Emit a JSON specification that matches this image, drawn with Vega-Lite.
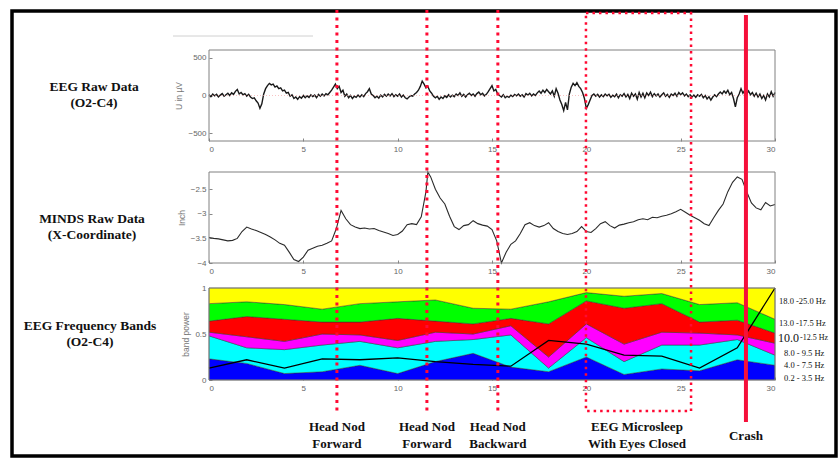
{
  "$schema": "https://vega.github.io/schema/vega-lite/v6.json",
  "width": 838,
  "height": 460,
  "autosize": {"type": "none"},
  "padding": 0,
  "background": "white",
  "config": {
    "view": {"stroke": null},
    "axis": {"labelFont": "Liberation Sans", "labelFontSize": 8, "labelColor": "#666", "tickColor": "#888", "tickSize": -3, "labelPadding": 7, "domain": false, "grid": false, "titleFont": "Liberation Sans", "titleFontSize": 8.5, "titleColor": "#777", "titleFontWeight": "normal", "titlePadding": 4}
  },
  "datasets": {
    "eeg": [
      {"t":0.0,"v":10},{"t":0.1,"v":-15},{"t":0.2,"v":20},{"t":0.3,"v":-5},{"t":0.4,"v":15},{"t":0.5,"v":-20},{"t":0.6,"v":5},{"t":0.7,"v":25},{"t":0.8,"v":-10},{"t":0.9,"v":10},
      {"t":1.0,"v":30},{"t":1.1,"v":0},{"t":1.2,"v":35},{"t":1.3,"v":15},{"t":1.4,"v":55},{"t":1.5,"v":80},{"t":1.6,"v":20},{"t":1.7,"v":40},{"t":1.8,"v":10},{"t":1.9,"v":25},
      {"t":2.0,"v":-10},{"t":2.1,"v":15},{"t":2.2,"v":-20},{"t":2.3,"v":-40},{"t":2.4,"v":-30},{"t":2.5,"v":-70},{"t":2.6,"v":-100},{"t":2.7,"v":-170},{"t":2.8,"v":-110},{"t":2.9,"v":20},
      {"t":3.0,"v":90},{"t":3.1,"v":130},{"t":3.2,"v":160},{"t":3.3,"v":140},{"t":3.4,"v":150},{"t":3.5,"v":110},{"t":3.6,"v":125},{"t":3.7,"v":90},{"t":3.8,"v":100},{"t":3.9,"v":60},
      {"t":4.0,"v":70},{"t":4.1,"v":30},{"t":4.2,"v":40},{"t":4.3,"v":-10},{"t":4.4,"v":10},{"t":4.5,"v":-40},{"t":4.6,"v":-20},{"t":4.7,"v":-50},{"t":4.8,"v":-15},{"t":4.9,"v":-35},
      {"t":5.0,"v":0},{"t":5.1,"v":-30},{"t":5.2,"v":-5},{"t":5.3,"v":-25},{"t":5.4,"v":10},{"t":5.5,"v":-15},{"t":5.6,"v":5},{"t":5.7,"v":-30},{"t":5.8,"v":15},{"t":5.9,"v":-10},
      {"t":6.0,"v":20},{"t":6.1,"v":-5},{"t":6.2,"v":25},{"t":6.3,"v":10},{"t":6.4,"v":40},{"t":6.5,"v":70},{"t":6.6,"v":110},{"t":6.7,"v":150},{"t":6.8,"v":90},{"t":6.9,"v":120},
      {"t":7.0,"v":40},{"t":7.1,"v":70},{"t":7.2,"v":-10},{"t":7.3,"v":20},{"t":7.4,"v":-30},{"t":7.5,"v":0},{"t":7.6,"v":-40},{"t":7.7,"v":-10},{"t":7.8,"v":-25},{"t":7.9,"v":5},
      {"t":8.0,"v":-20},{"t":8.1,"v":10},{"t":8.2,"v":-15},{"t":8.3,"v":25},{"t":8.4,"v":50},{"t":8.5,"v":90},{"t":8.6,"v":20},{"t":8.7,"v":0},{"t":8.8,"v":-30},{"t":8.9,"v":-10},
      {"t":9.0,"v":-35},{"t":9.1,"v":5},{"t":9.2,"v":-20},{"t":9.3,"v":15},{"t":9.4,"v":-10},{"t":9.5,"v":20},{"t":9.6,"v":-5},{"t":9.7,"v":25},{"t":9.8,"v":-15},{"t":9.9,"v":10},
      {"t":10.0,"v":-10},{"t":10.1,"v":20},{"t":10.2,"v":-20},{"t":10.3,"v":5},{"t":10.4,"v":-30},{"t":10.5,"v":-45},{"t":10.6,"v":-20},{"t":10.7,"v":0},{"t":10.8,"v":-10},{"t":10.9,"v":20},
      {"t":11.0,"v":40},{"t":11.1,"v":70},{"t":11.2,"v":120},{"t":11.3,"v":190},{"t":11.4,"v":150},{"t":11.5,"v":100},{"t":11.6,"v":120},{"t":11.7,"v":60},{"t":11.8,"v":30},{"t":11.9,"v":-10},
      {"t":12.0,"v":-30},{"t":12.1,"v":-10},{"t":12.2,"v":-50},{"t":12.3,"v":-20},{"t":12.4,"v":-40},{"t":12.5,"v":-5},{"t":12.6,"v":-25},{"t":12.7,"v":10},{"t":12.8,"v":-20},{"t":12.9,"v":5},
      {"t":13.0,"v":-15},{"t":13.1,"v":20},{"t":13.2,"v":0},{"t":13.3,"v":35},{"t":13.4,"v":-10},{"t":13.5,"v":15},{"t":13.6,"v":-20},{"t":13.7,"v":10},{"t":13.8,"v":30},{"t":13.9,"v":0},
      {"t":14.0,"v":20},{"t":14.1,"v":-10},{"t":14.2,"v":25},{"t":14.3,"v":45},{"t":14.4,"v":10},{"t":14.5,"v":30},{"t":14.6,"v":-5},{"t":14.7,"v":15},{"t":14.8,"v":50},{"t":14.9,"v":90},
      {"t":15.0,"v":130},{"t":15.1,"v":60},{"t":15.2,"v":80},{"t":15.3,"v":20},{"t":15.4,"v":0},{"t":15.5,"v":-20},{"t":15.6,"v":10},{"t":15.7,"v":-30},{"t":15.8,"v":-10},{"t":15.9,"v":-25},
      {"t":16.0,"v":5},{"t":16.1,"v":-15},{"t":16.2,"v":15},{"t":16.3,"v":-5},{"t":16.4,"v":20},{"t":16.5,"v":-10},{"t":16.6,"v":10},{"t":16.7,"v":-20},{"t":16.8,"v":25},{"t":16.9,"v":5},
      {"t":17.0,"v":30},{"t":17.1,"v":-5},{"t":17.2,"v":20},{"t":17.3,"v":0},{"t":17.4,"v":35},{"t":17.5,"v":60},{"t":17.6,"v":30},{"t":17.7,"v":70},{"t":17.8,"v":40},{"t":17.9,"v":80},
      {"t":18.0,"v":50},{"t":18.1,"v":20},{"t":18.2,"v":60},{"t":18.3,"v":-10},{"t":18.4,"v":90},{"t":18.5,"v":30},{"t":18.6,"v":-60},{"t":18.7,"v":-120},{"t":18.8,"v":-200},{"t":18.9,"v":-90},
      {"t":19.0,"v":-190},{"t":19.1,"v":20},{"t":19.2,"v":110},{"t":19.3,"v":160},{"t":19.4,"v":130},{"t":19.5,"v":170},{"t":19.6,"v":120},{"t":19.7,"v":90},{"t":19.8,"v":40},{"t":19.9,"v":-40},
      {"t":20.0,"v":-170},{"t":20.1,"v":-120},{"t":20.2,"v":-60},{"t":20.3,"v":0},{"t":20.4,"v":20},{"t":20.5,"v":-10},{"t":20.6,"v":15},{"t":20.7,"v":-20},{"t":20.8,"v":10},{"t":20.9,"v":-15},
      {"t":21.0,"v":20},{"t":21.1,"v":-5},{"t":21.2,"v":15},{"t":21.3,"v":-25},{"t":21.4,"v":5},{"t":21.5,"v":-15},{"t":21.6,"v":20},{"t":21.7,"v":-30},{"t":21.8,"v":10},{"t":21.9,"v":-10},
      {"t":22.0,"v":25},{"t":22.1,"v":-20},{"t":22.2,"v":15},{"t":22.3,"v":-40},{"t":22.4,"v":30},{"t":22.5,"v":-10},{"t":22.6,"v":20},{"t":22.7,"v":-50},{"t":22.8,"v":40},{"t":22.9,"v":-20},
      {"t":23.0,"v":30},{"t":23.1,"v":-30},{"t":23.2,"v":35},{"t":23.3,"v":0},{"t":23.4,"v":45},{"t":23.5,"v":-15},{"t":23.6,"v":25},{"t":23.7,"v":-5},{"t":23.8,"v":20},{"t":23.9,"v":-20},
      {"t":24.0,"v":10},{"t":24.1,"v":35},{"t":24.2,"v":-10},{"t":24.3,"v":15},{"t":24.4,"v":-25},{"t":24.5,"v":20},{"t":24.6,"v":0},{"t":24.7,"v":30},{"t":24.8,"v":-10},{"t":24.9,"v":40},
      {"t":25.0,"v":10},{"t":25.1,"v":35},{"t":25.2,"v":-5},{"t":25.3,"v":20},{"t":25.4,"v":-15},{"t":25.5,"v":10},{"t":25.6,"v":-20},{"t":25.7,"v":5},{"t":25.8,"v":-25},{"t":25.9,"v":10},
      {"t":26.0,"v":-10},{"t":26.1,"v":15},{"t":26.2,"v":-30},{"t":26.3,"v":0},{"t":26.4,"v":-45},{"t":26.5,"v":-15},{"t":26.6,"v":-60},{"t":26.7,"v":-20},{"t":26.8,"v":10},{"t":26.9,"v":-15},
      {"t":27.0,"v":20},{"t":27.1,"v":45},{"t":27.2,"v":20},{"t":27.3,"v":60},{"t":27.4,"v":30},{"t":27.5,"v":70},{"t":27.6,"v":10},{"t":27.7,"v":40},{"t":27.8,"v":-40},{"t":27.9,"v":-150},
      {"t":28.0,"v":-30},{"t":28.1,"v":20},{"t":28.2,"v":90},{"t":28.3,"v":30},{"t":28.4,"v":70},{"t":28.5,"v":20},{"t":28.6,"v":60},{"t":28.7,"v":10},{"t":28.8,"v":40},{"t":28.9,"v":-10},
      {"t":29.0,"v":30},{"t":29.1,"v":-20},{"t":29.2,"v":20},{"t":29.3,"v":-40},{"t":29.4,"v":0},{"t":29.5,"v":-60},{"t":29.6,"v":20},{"t":29.7,"v":-20},{"t":29.8,"v":50},{"t":29.9,"v":-10},
      {"t":30.0,"v":40}
    ],
    "minds": [
      {"t":0,"v":-3.48},{"t":0.25,"v":-3.5},{"t":0.5,"v":-3.51},{"t":0.75,"v":-3.53},{"t":1,"v":-3.55},{"t":1.25,"v":-3.54},{"t":1.5,"v":-3.5},{"t":1.75,"v":-3.36},
      {"t":2,"v":-3.27},{"t":2.25,"v":-3.31},{"t":2.5,"v":-3.34},{"t":2.75,"v":-3.38},{"t":3,"v":-3.42},{"t":3.25,"v":-3.47},{"t":3.5,"v":-3.53},{"t":3.75,"v":-3.6},
      {"t":4,"v":-3.64},{"t":4.25,"v":-3.78},{"t":4.5,"v":-3.93},{"t":4.75,"v":-3.97},{"t":5,"v":-3.88},{"t":5.25,"v":-3.74},{"t":5.5,"v":-3.7},{"t":5.75,"v":-3.66},
      {"t":6,"v":-3.64},{"t":6.25,"v":-3.6},{"t":6.5,"v":-3.55},{"t":6.75,"v":-3.3},{"t":7,"v":-2.93},{"t":7.25,"v":-3.1},{"t":7.5,"v":-3.22},{"t":7.75,"v":-3.27},
      {"t":8,"v":-3.3},{"t":8.25,"v":-3.29},{"t":8.5,"v":-3.31},{"t":8.75,"v":-3.3},{"t":9,"v":-3.34},{"t":9.25,"v":-3.37},{"t":9.5,"v":-3.4},{"t":9.75,"v":-3.44},
      {"t":10,"v":-3.42},{"t":10.25,"v":-3.35},{"t":10.5,"v":-3.22},{"t":10.75,"v":-3.2},{"t":11,"v":-3.22},{"t":11.25,"v":-3.06},{"t":11.5,"v":-2.55},{"t":11.6,"v":-2.15},
      {"t":11.75,"v":-2.25},{"t":12,"v":-2.5},{"t":12.25,"v":-2.68},{"t":12.5,"v":-2.8},{"t":12.75,"v":-3.05},{"t":13,"v":-3.26},{"t":13.25,"v":-3.32},{"t":13.5,"v":-3.24},
      {"t":13.75,"v":-3.22},{"t":14,"v":-3.14},{"t":14.25,"v":-3.2},{"t":14.5,"v":-3.23},{"t":14.75,"v":-3.25},{"t":15,"v":-3.32},{"t":15.25,"v":-3.55},{"t":15.5,"v":-4.0},
      {"t":15.75,"v":-3.78},{"t":16,"v":-3.62},{"t":16.25,"v":-3.55},{"t":16.5,"v":-3.4},{"t":16.75,"v":-3.22},{"t":17,"v":-3.18},{"t":17.25,"v":-3.24},{"t":17.5,"v":-3.27},
      {"t":17.75,"v":-3.24},{"t":18,"v":-3.18},{"t":18.25,"v":-3.3},{"t":18.5,"v":-3.36},{"t":18.75,"v":-3.4},{"t":19,"v":-3.42},{"t":19.25,"v":-3.4},{"t":19.5,"v":-3.36},
      {"t":19.75,"v":-3.26},{"t":20,"v":-3.36},{"t":20.25,"v":-3.38},{"t":20.5,"v":-3.3},{"t":20.75,"v":-3.2},{"t":21,"v":-3.16},{"t":21.25,"v":-3.24},{"t":21.5,"v":-3.29},
      {"t":21.75,"v":-3.23},{"t":22,"v":-3.21},{"t":22.25,"v":-3.18},{"t":22.5,"v":-3.16},{"t":22.75,"v":-3.12},{"t":23,"v":-3.1},{"t":23.25,"v":-3.12},{"t":23.5,"v":-3.07},
      {"t":23.75,"v":-3.08},{"t":24,"v":-3.05},{"t":24.25,"v":-3.03},{"t":24.5,"v":-3.0},{"t":24.75,"v":-2.96},{"t":25,"v":-2.91},{"t":25.25,"v":-2.97},{"t":25.5,"v":-3.03},
      {"t":25.75,"v":-3.08},{"t":26,"v":-3.13},{"t":26.25,"v":-3.2},{"t":26.5,"v":-3.24},{"t":26.75,"v":-3.08},{"t":27,"v":-2.93},{"t":27.25,"v":-2.8},{"t":27.5,"v":-2.55},
      {"t":27.75,"v":-2.36},{"t":28,"v":-2.25},{"t":28.25,"v":-2.3},{"t":28.5,"v":-2.55},{"t":28.75,"v":-2.78},{"t":29,"v":-2.88},{"t":29.25,"v":-2.92},{"t":29.5,"v":-2.77},
      {"t":29.75,"v":-2.84},{"t":30,"v":-2.81}
    ],
    "bands": [
      {"t":0,"b":"0.2 - 3.5 Hz","lo":0.2,"p":0.23},{"t":0,"b":"4.0 - 7.5 Hz","lo":4,"p":0.25},{"t":0,"b":"8.0 - 9.5 Hz","lo":8,"p":0.04},{"t":0,"b":"10.0 - 12.5 Hz","lo":10,"p":0.12},{"t":0,"b":"13.0 - 17.5 Hz","lo":13,"p":0.19},{"t":0,"b":"18.0 - 25.0 Hz","lo":18,"p":0.17},
      {"t":2,"b":"0.2 - 3.5 Hz","lo":0.2,"p":0.18},{"t":2,"b":"4.0 - 7.5 Hz","lo":4,"p":0.17},{"t":2,"b":"8.0 - 9.5 Hz","lo":8,"p":0.12},{"t":2,"b":"10.0 - 12.5 Hz","lo":10,"p":0.22},{"t":2,"b":"13.0 - 17.5 Hz","lo":13,"p":0.16},{"t":2,"b":"18.0 - 25.0 Hz","lo":18,"p":0.15},
      {"t":4,"b":"0.2 - 3.5 Hz","lo":0.2,"p":0.07},{"t":4,"b":"4.0 - 7.5 Hz","lo":4,"p":0.26},{"t":4,"b":"8.0 - 9.5 Hz","lo":8,"p":0.09},{"t":4,"b":"10.0 - 12.5 Hz","lo":10,"p":0.24},{"t":4,"b":"13.0 - 17.5 Hz","lo":13,"p":0.16},{"t":4,"b":"18.0 - 25.0 Hz","lo":18,"p":0.18},
      {"t":6,"b":"0.2 - 3.5 Hz","lo":0.2,"p":0.09},{"t":6,"b":"4.0 - 7.5 Hz","lo":4,"p":0.29},{"t":6,"b":"8.0 - 9.5 Hz","lo":8,"p":0.12},{"t":6,"b":"10.0 - 12.5 Hz","lo":10,"p":0.13},{"t":6,"b":"13.0 - 17.5 Hz","lo":13,"p":0.14},{"t":6,"b":"18.0 - 25.0 Hz","lo":18,"p":0.23},
      {"t":8,"b":"0.2 - 3.5 Hz","lo":0.2,"p":0.16},{"t":8,"b":"4.0 - 7.5 Hz","lo":4,"p":0.26},{"t":8,"b":"8.0 - 9.5 Hz","lo":8,"p":0.07},{"t":8,"b":"10.0 - 12.5 Hz","lo":10,"p":0.14},{"t":8,"b":"13.0 - 17.5 Hz","lo":13,"p":0.2},{"t":8,"b":"18.0 - 25.0 Hz","lo":18,"p":0.17},
      {"t":10,"b":"0.2 - 3.5 Hz","lo":0.2,"p":0.07},{"t":10,"b":"4.0 - 7.5 Hz","lo":4,"p":0.28},{"t":10,"b":"8.0 - 9.5 Hz","lo":8,"p":0.08},{"t":10,"b":"10.0 - 12.5 Hz","lo":10,"p":0.24},{"t":10,"b":"13.0 - 17.5 Hz","lo":13,"p":0.18},{"t":10,"b":"18.0 - 25.0 Hz","lo":18,"p":0.15},
      {"t":12,"b":"0.2 - 3.5 Hz","lo":0.2,"p":0.2},{"t":12,"b":"4.0 - 7.5 Hz","lo":4,"p":0.22},{"t":12,"b":"8.0 - 9.5 Hz","lo":8,"p":0.1},{"t":12,"b":"10.0 - 12.5 Hz","lo":10,"p":0.12},{"t":12,"b":"13.0 - 17.5 Hz","lo":13,"p":0.23},{"t":12,"b":"18.0 - 25.0 Hz","lo":18,"p":0.13},
      {"t":14,"b":"0.2 - 3.5 Hz","lo":0.2,"p":0.29},{"t":14,"b":"4.0 - 7.5 Hz","lo":4,"p":0.15},{"t":14,"b":"8.0 - 9.5 Hz","lo":8,"p":0.06},{"t":14,"b":"10.0 - 12.5 Hz","lo":10,"p":0.11},{"t":14,"b":"13.0 - 17.5 Hz","lo":13,"p":0.17},{"t":14,"b":"18.0 - 25.0 Hz","lo":18,"p":0.22},
      {"t":16,"b":"0.2 - 3.5 Hz","lo":0.2,"p":0.14},{"t":16,"b":"4.0 - 7.5 Hz","lo":4,"p":0.35},{"t":16,"b":"8.0 - 9.5 Hz","lo":8,"p":0.1},{"t":16,"b":"10.0 - 12.5 Hz","lo":10,"p":0.08},{"t":16,"b":"13.0 - 17.5 Hz","lo":13,"p":0.1},{"t":16,"b":"18.0 - 25.0 Hz","lo":18,"p":0.23},
      {"t":18,"b":"0.2 - 3.5 Hz","lo":0.2,"p":0.09},{"t":18,"b":"4.0 - 7.5 Hz","lo":4,"p":0.04},{"t":18,"b":"8.0 - 9.5 Hz","lo":8,"p":0.12},{"t":18,"b":"10.0 - 12.5 Hz","lo":10,"p":0.36},{"t":18,"b":"13.0 - 17.5 Hz","lo":13,"p":0.24},{"t":18,"b":"18.0 - 25.0 Hz","lo":18,"p":0.15},
      {"t":20,"b":"0.2 - 3.5 Hz","lo":0.2,"p":0.25},{"t":20,"b":"4.0 - 7.5 Hz","lo":4,"p":0.21},{"t":20,"b":"8.0 - 9.5 Hz","lo":8,"p":0.15},{"t":20,"b":"10.0 - 12.5 Hz","lo":10,"p":0.25},{"t":20,"b":"13.0 - 17.5 Hz","lo":13,"p":0.09},{"t":20,"b":"18.0 - 25.0 Hz","lo":18,"p":0.05},
      {"t":22,"b":"0.2 - 3.5 Hz","lo":0.2,"p":0.06},{"t":22,"b":"4.0 - 7.5 Hz","lo":4,"p":0.14},{"t":22,"b":"8.0 - 9.5 Hz","lo":8,"p":0.19},{"t":22,"b":"10.0 - 12.5 Hz","lo":10,"p":0.39},{"t":22,"b":"13.0 - 17.5 Hz","lo":13,"p":0.13},{"t":22,"b":"18.0 - 25.0 Hz","lo":18,"p":0.09},
      {"t":24,"b":"0.2 - 3.5 Hz","lo":0.2,"p":0.12},{"t":24,"b":"4.0 - 7.5 Hz","lo":4,"p":0.26},{"t":24,"b":"8.0 - 9.5 Hz","lo":8,"p":0.14},{"t":24,"b":"10.0 - 12.5 Hz","lo":10,"p":0.31},{"t":24,"b":"13.0 - 17.5 Hz","lo":13,"p":0.11},{"t":24,"b":"18.0 - 25.0 Hz","lo":18,"p":0.06},
      {"t":26,"b":"0.2 - 3.5 Hz","lo":0.2,"p":0.1},{"t":26,"b":"4.0 - 7.5 Hz","lo":4,"p":0.28},{"t":26,"b":"8.0 - 9.5 Hz","lo":8,"p":0.13},{"t":26,"b":"10.0 - 12.5 Hz","lo":10,"p":0.12},{"t":26,"b":"13.0 - 17.5 Hz","lo":13,"p":0.19},{"t":26,"b":"18.0 - 25.0 Hz","lo":18,"p":0.18},
      {"t":28,"b":"0.2 - 3.5 Hz","lo":0.2,"p":0.22},{"t":28,"b":"4.0 - 7.5 Hz","lo":4,"p":0.22},{"t":28,"b":"8.0 - 9.5 Hz","lo":8,"p":0.05},{"t":28,"b":"10.0 - 12.5 Hz","lo":10,"p":0.16},{"t":28,"b":"13.0 - 17.5 Hz","lo":13,"p":0.19},{"t":28,"b":"18.0 - 25.0 Hz","lo":18,"p":0.16},
      {"t":30,"b":"0.2 - 3.5 Hz","lo":0.2,"p":0.16},{"t":30,"b":"4.0 - 7.5 Hz","lo":4,"p":0.11},{"t":30,"b":"8.0 - 9.5 Hz","lo":8,"p":0.13},{"t":30,"b":"10.0 - 12.5 Hz","lo":10,"p":0.11},{"t":30,"b":"13.0 - 17.5 Hz","lo":13,"p":0.15},{"t":30,"b":"18.0 - 25.0 Hz","lo":18,"p":0.34}
    ],
    "index": [
      {"t":0,"v":0.13},{"t":2,"v":0.22},{"t":4,"v":0.13},{"t":6,"v":0.23},{"t":8,"v":0.22},{"t":10,"v":0.24},{"t":12,"v":0.2},{"t":14,"v":0.17},
      {"t":16,"v":0.15},{"t":18,"v":0.43},{"t":20,"v":0.39},{"t":22,"v":0.27},{"t":24,"v":0.26},{"t":26,"v":0.13},{"t":28,"v":0.35},{"t":30,"v":1.0}
    ],
    "nods": [
      {"event":"Head Nod Forward","label":"Head Nod\nForward","t":6.78},
      {"event":"Head Nod Forward","label":"Head Nod\nForward","t":11.55},
      {"event":"Head Nod Backward","label":"Head Nod\nBackward","t":15.31}
    ],
    "microsleep": [{"event":"EEG Microsleep With Eyes Closed","label":"EEG Microsleep\nWith Eyes Closed","start":19.98,"end":25.55}],
    "crash": [{"event":"Crash","label":"Crash","t":28.46}]
  },
  "resolve": {"scale": {"x": "independent", "y": "independent"}, "axis": {"x": "independent", "y": "independent"}},
  "layer": [
    {
      "data": {"values": [{}]},
      "mark": {"type": "rect", "fillOpacity": 0, "stroke": "#000", "strokeWidth": 3.5},
      "encoding": {"x": {"value": 12}, "x2": {"value": 836}, "y": {"value": 11}, "y2": {"value": 456}}
    },
    {
      "data": {"values": [{}]},
      "mark": {"type": "rule", "color": "#d0d0d0", "strokeWidth": 1},
      "encoding": {"x": {"value": 173}, "x2": {"value": 313}, "y": {"value": 36}}
    },
    {
      "layer": [
        {
          "data": {"name": "eeg"},
          "mark": {"type": "line", "color": "#1a1a1a", "strokeWidth": 1.4},
          "encoding": {
            "x": {"field": "t", "type": "quantitative", "scale": {"domain": [0, 30], "range": [209, 775], "nice": false, "zero": false},
                  "axis": {"orient": "bottom", "offset": -319, "values": [0, 5, 10, 15, 20, 25, 30], "title": null}},
            "y": {"field": "v", "type": "quantitative", "scale": {"domain": [-600, 600], "range": [141, 50], "nice": false, "zero": false},
                  "axis": {"orient": "left", "offset": -209, "values": [-500, 0, 500], "format": "d", "title": "U in µV", "labelPadding": 6}}
          }
        },
        {
          "data": {"values": [{}]},
          "mark": {"type": "rule", "color": "#f4a0a0", "strokeDash": [1, 2], "strokeWidth": 0.8, "opacity": 0.8},
          "encoding": {
            "x": {"datum": 0, "type": "quantitative"},
            "x2": {"datum": 30},
            "y": {"datum": 0, "type": "quantitative"}
          }
        },
        {
          "data": {"values": [{}]},
          "mark": {"type": "rect", "fillOpacity": 0, "stroke": "#808080", "strokeWidth": 1},
          "encoding": {
            "x": {"datum": 0, "type": "quantitative"},
            "x2": {"datum": 30},
            "y": {"datum": -600, "type": "quantitative"},
            "y2": {"datum": 600}
          }
        },
        {
          "data": {"values": [{}]},
          "mark": {"type": "text", "font": "Liberation Serif", "fontWeight": "bold", "fontSize": 13.5, "color": "#111", "align": "center", "baseline": "middle", "lineBreak": "\n", "lineHeight": 16},
          "encoding": {
            "x": {"value": 94},
            "y": {"datum": 112, "type": "quantitative"},
            "text": {"value": "EEG Raw Data\n(O2-C4)"}
          }
        }
      ]
    },
    {
      "layer": [
        {
          "data": {"name": "minds"},
          "mark": {"type": "line", "color": "#2a2a2a", "strokeWidth": 1.1},
          "encoding": {
            "x": {"field": "t", "type": "quantitative", "scale": {"domain": [0, 30], "range": [209, 775], "nice": false, "zero": false},
                  "axis": {"orient": "bottom", "offset": -197, "values": [0, 5, 10, 15, 20, 25, 30], "title": null}},
            "y": {"field": "v", "type": "quantitative", "scale": {"domain": [-4, -2.15], "range": [263, 172], "nice": false, "zero": false},
                  "axis": {"orient": "left", "offset": -209, "values": [-4, -3.5, -3, -2.5], "format": "~g", "title": "Inch", "labelPadding": 6}}
          }
        },
        {
          "data": {"values": [{}]},
          "mark": {"type": "rect", "fillOpacity": 0, "stroke": "#808080", "strokeWidth": 1},
          "encoding": {
            "x": {"datum": 0, "type": "quantitative"},
            "x2": {"datum": 30},
            "y": {"datum": -4, "type": "quantitative"},
            "y2": {"datum": -2.15}
          }
        },
        {
          "data": {"values": [{}]},
          "mark": {"type": "text", "font": "Liberation Serif", "fontWeight": "bold", "fontSize": 13.5, "color": "#111", "align": "center", "baseline": "middle", "lineBreak": "\n", "lineHeight": 16},
          "encoding": {
            "x": {"value": 92},
            "y": {"datum": -3.105, "type": "quantitative"},
            "text": {"value": "MINDS Raw Data\n(X-Coordinate)"}
          }
        }
      ]
    },
    {
      "layer": [
        {
          "data": {"name": "bands"},
          "mark": {"type": "area", "stroke": "#333", "strokeWidth": 0.6, "strokeOpacity": 0.8},
          "encoding": {
            "x": {"field": "t", "type": "quantitative", "scale": {"domain": [0, 30], "range": [209, 775], "nice": false, "zero": false},
                  "axis": {"orient": "bottom", "offset": -80, "values": [0, 5, 10, 15, 20, 25, 30], "title": null}},
            "y": {"field": "p", "type": "quantitative", "stack": "zero", "scale": {"domain": [0, 1], "range": [380, 288], "nice": false, "zero": false},
                  "axis": {"orient": "left", "offset": -209, "values": [0, 0.5, 1], "format": "~g", "title": "band power", "labelPadding": 6}},
            "color": {"field": "b", "type": "nominal", "legend": null,
                      "scale": {"domain": ["0.2 - 3.5 Hz", "4.0 - 7.5 Hz", "8.0 - 9.5 Hz", "10.0 - 12.5 Hz", "13.0 - 17.5 Hz", "18.0 - 25.0 Hz"],
                                "range": ["#0000ff", "#00ffff", "#ff00ff", "#ff0000", "#00ff00", "#ffff00"]}},
            "order": {"field": "lo", "type": "quantitative", "sort": "ascending"}
          }
        },
        {
          "data": {"name": "index"},
          "mark": {"type": "line", "color": "#000", "strokeWidth": 1.3},
          "encoding": {
            "x": {"field": "t", "type": "quantitative"},
            "y": {"field": "v", "type": "quantitative"}
          }
        },
        {
          "data": {"values": [{}]},
          "mark": {"type": "rect", "fillOpacity": 0, "stroke": "#808080", "strokeWidth": 1},
          "encoding": {
            "x": {"datum": 0, "type": "quantitative"},
            "x2": {"datum": 30},
            "y": {"datum": 0, "type": "quantitative"},
            "y2": {"datum": 1}
          }
        },
        {
          "data": {"values": [{}]},
          "mark": {"type": "text", "font": "Liberation Serif", "fontWeight": "bold", "fontSize": 13.5, "color": "#111", "align": "center", "baseline": "middle", "lineBreak": "\n", "lineHeight": 16},
          "encoding": {
            "x": {"value": 90},
            "y": {"datum": 0.587, "type": "quantitative"},
            "text": {"value": "EEG Frequency Bands\n(O2-C4)"}
          }
        },
        {
          "data": {"values": [{}]},
          "mark": {"type": "text", "font": "Liberation Serif", "fontSize": 8.5, "color": "#111", "align": "left", "baseline": "middle", "dx": 4},
          "encoding": {"x": {"datum": 30, "type": "quantitative"}, "y": {"datum": 0.86, "type": "quantitative"}, "text": {"value": "18.0 -25.0 Hz"}}
        },
        {
          "data": {"values": [{}]},
          "mark": {"type": "text", "font": "Liberation Serif", "fontSize": 8.5, "color": "#111", "align": "left", "baseline": "middle", "dx": 4},
          "encoding": {"x": {"datum": 30, "type": "quantitative"}, "y": {"datum": 0.62, "type": "quantitative"}, "text": {"value": "13.0 -17.5 Hz"}}
        },
        {
          "data": {"values": [{}]},
          "mark": {"type": "text", "font": "Liberation Serif", "fontSize": 12, "color": "#111", "align": "left", "baseline": "middle", "dx": 3},
          "encoding": {"x": {"datum": 30, "type": "quantitative"}, "y": {"datum": 0.46, "type": "quantitative"}, "text": {"value": "10.0"}}
        },
        {
          "data": {"values": [{}]},
          "mark": {"type": "text", "font": "Liberation Serif", "fontSize": 8, "color": "#111", "align": "left", "baseline": "middle", "dx": 25},
          "encoding": {"x": {"datum": 30, "type": "quantitative"}, "y": {"datum": 0.46, "type": "quantitative"}, "text": {"value": "-12.5 Hz"}}
        },
        {
          "data": {"values": [{}]},
          "mark": {"type": "text", "font": "Liberation Serif", "fontSize": 8.5, "color": "#111", "align": "left", "baseline": "middle", "dx": 9},
          "encoding": {"x": {"datum": 30, "type": "quantitative"}, "y": {"datum": 0.29, "type": "quantitative"}, "text": {"value": "8.0 - 9.5 Hz"}}
        },
        {
          "data": {"values": [{}]},
          "mark": {"type": "text", "font": "Liberation Serif", "fontSize": 8.5, "color": "#111", "align": "left", "baseline": "middle", "dx": 9},
          "encoding": {"x": {"datum": 30, "type": "quantitative"}, "y": {"datum": 0.16, "type": "quantitative"}, "text": {"value": "4.0 - 7.5 Hz"}}
        },
        {
          "data": {"values": [{}]},
          "mark": {"type": "text", "font": "Liberation Serif", "fontSize": 8.5, "color": "#111", "align": "left", "baseline": "middle", "dx": 9},
          "encoding": {"x": {"datum": 30, "type": "quantitative"}, "y": {"datum": 0.02, "type": "quantitative"}, "text": {"value": "0.2 - 3.5 Hz"}}
        }
      ]
    },
    {
      "layer": [
        {
          "data": {"name": "nods"},
          "mark": {"type": "rule", "color": "#ff0a33", "strokeWidth": 3, "strokeDash": [3, 4.5]},
          "encoding": {
            "x": {"field": "t", "type": "quantitative", "scale": {"domain": [0, 30], "range": [209, 775], "nice": false, "zero": false}, "axis": null},
            "y": {"value": 10},
            "y2": {"value": 411}
          }
        },
        {
          "data": {"name": "microsleep"},
          "mark": {"type": "rect", "fillOpacity": 0, "stroke": "#ff0a33", "strokeWidth": 2.5, "strokeDash": [2.5, 4]},
          "encoding": {
            "x": {"field": "start", "type": "quantitative"},
            "x2": {"field": "end"},
            "y": {"value": 13},
            "y2": {"value": 411}
          }
        },
        {
          "data": {"name": "crash"},
          "mark": {"type": "rule", "color": "#f5103a", "strokeWidth": 4},
          "encoding": {
            "x": {"field": "t", "type": "quantitative"},
            "y": {"value": 15},
            "y2": {"value": 422}
          }
        },
        {
          "data": {"name": "nods"},
          "mark": {"type": "text", "font": "Liberation Serif", "fontWeight": "bold", "fontSize": 13, "color": "#111", "align": "center", "baseline": "middle", "lineBreak": "\n", "lineHeight": 17},
          "encoding": {
            "x": {"field": "t", "type": "quantitative"},
            "y": {"value": 427},
            "text": {"field": "label"}
          }
        },
        {
          "data": {"name": "microsleep"},
          "mark": {"type": "text", "font": "Liberation Serif", "fontWeight": "bold", "fontSize": 13, "color": "#111", "align": "center", "baseline": "middle", "lineBreak": "\n", "lineHeight": 17, "dx": 51},
          "encoding": {
            "x": {"field": "start", "type": "quantitative"},
            "y": {"value": 427},
            "text": {"field": "label"}
          }
        },
        {
          "data": {"name": "crash"},
          "mark": {"type": "text", "font": "Liberation Serif", "fontWeight": "bold", "fontSize": 13, "color": "#111", "align": "center", "baseline": "middle"},
          "encoding": {
            "x": {"field": "t", "type": "quantitative"},
            "y": {"value": 436},
            "text": {"field": "label"}
          }
        }
      ]
    }
  ]
}
